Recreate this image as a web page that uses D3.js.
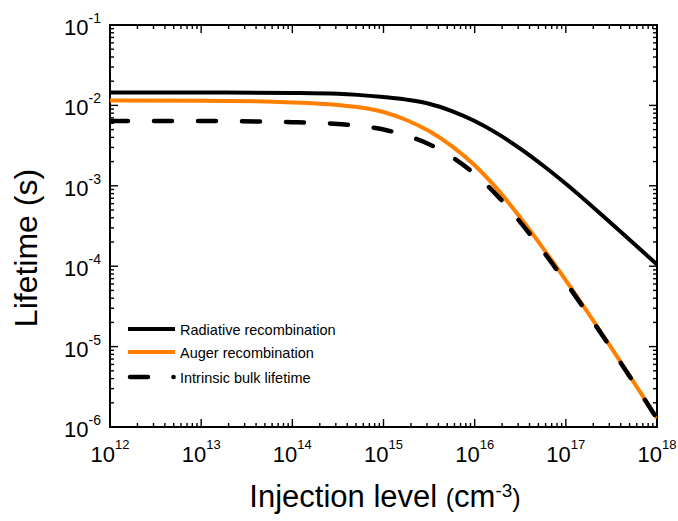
<!DOCTYPE html>
<html>
<head>
<meta charset="utf-8">
<script src="https://cdn.jsdelivr.net/npm/d3@7"></script>
<style>
  html, body { margin: 0; padding: 0; background: #fff; }
  svg { display: block; }
  text { font-family: "Liberation Sans", Arial, sans-serif; fill: #000; }
</style>
</head>
<body>
<svg id="chart" width="678" height="521"></svg>
<script>
// ---- Data ----
const injection = [1e12, 1e13, 1e14, 3.16e14, 1e15, 1.78e15, 3.16e15, 5.62e15, 1e16, 1.78e16, 3.16e16, 5.62e16, 1e17, 3.16e17, 1e18];
const radiative = [1.45e-2, 1.45e-2, 1.43e-2, 1.40e-2, 1.27e-2, 1.18e-2, 1.05e-2, 8.5e-3, 6.4e-3, 4.46e-3, 2.9e-3, 1.79e-3, 1.06e-3, 3.4e-4, 1.05e-4];
const auger     = [1.148e-2, 1.143e-2, 1.09e-2, 1.01e-2, 8.28e-3, 6.58e-3, 4.79e-3, 3.11e-3, 1.80e-3, 9.02e-4, 4.03e-4, 1.68e-4, 6.68e-5, 9.66e-6, 1.29e-6];
const intrinsic = [6.41e-3, 6.39e-3, 6.19e-3, 5.87e-3, 5.01e-3, 4.22e-3, 3.29e-3, 2.28e-3, 1.40e-3, 7.50e-4, 3.54e-4, 1.54e-4, 6.28e-5, 9.39e-6, 1.27e-6];

const xTickValues = [1e12, 1e13, 1e14, 1e15, 1e16, 1e17, 1e18];
const xTickExponents = ["12", "13", "14", "15", "16", "17", "18"];
const yTickValues = [1e-1, 1e-2, 1e-3, 1e-4, 1e-5, 1e-6];
const yTickExponents = ["-1", "-2", "-3", "-4", "-5", "-6"];

const seriesNames = ["Radiative recombination", "Auger recombination", "Intrinsic bulk lifetime"];
const seriesColors = ["#000000", "#ff8000", "#000000"];

// ---- Layout ----
const svg = d3.select("#chart");
const plot = { left: 110, right: 657, top: 25, bottom: 427 };

const x = d3.scaleLog().domain([1e12, 1e18]).range([plot.left, plot.right]);
const y = d3.scaleLog().domain([1e-6, 1e-1]).range([plot.bottom, plot.top]);

svg.append("defs").append("clipPath").attr("id", "clip")
  .append("rect")
  .attr("x", plot.left).attr("y", plot.top)
  .attr("width", plot.right - plot.left).attr("height", plot.bottom - plot.top);

// minor + major ticks
function minorTicks(lo, hi) {
  const out = [];
  for (let e = lo; e < hi; e++) {
    for (let m = 2; m <= 9; m++) out.push(m * Math.pow(10, e));
  }
  return out;
}
const xMinor = minorTicks(12, 18);
const yMinor = minorTicks(-6, -1);

const ticks = svg.append("g").attr("stroke", "#000").attr("stroke-width", 1.4);
const majorLen = 8, minorLen = 4;
xTickValues.forEach(v => {
  ticks.append("line").attr("x1", x(v)).attr("x2", x(v)).attr("y1", plot.bottom).attr("y2", plot.bottom - majorLen);
  ticks.append("line").attr("x1", x(v)).attr("x2", x(v)).attr("y1", plot.top).attr("y2", plot.top + majorLen);
});
xMinor.forEach(v => {
  ticks.append("line").attr("x1", x(v)).attr("x2", x(v)).attr("y1", plot.bottom).attr("y2", plot.bottom - minorLen);
  ticks.append("line").attr("x1", x(v)).attr("x2", x(v)).attr("y1", plot.top).attr("y2", plot.top + minorLen);
});
yTickValues.forEach(v => {
  ticks.append("line").attr("y1", y(v)).attr("y2", y(v)).attr("x1", plot.left).attr("x2", plot.left + majorLen);
  ticks.append("line").attr("y1", y(v)).attr("y2", y(v)).attr("x1", plot.right).attr("x2", plot.right - majorLen);
});
yMinor.forEach(v => {
  ticks.append("line").attr("y1", y(v)).attr("y2", y(v)).attr("x1", plot.left).attr("x2", plot.left + minorLen);
  ticks.append("line").attr("y1", y(v)).attr("y2", y(v)).attr("x1", plot.right).attr("x2", plot.right - minorLen);
});

// frame
svg.append("rect")
  .attr("x", plot.left).attr("y", plot.top)
  .attr("width", plot.right - plot.left).attr("height", plot.bottom - plot.top)
  .attr("fill", "none").attr("stroke", "#000").attr("stroke-width", 2);

// tick labels
xTickValues.forEach((v, i) => {
  const t = svg.append("text").attr("x", x(v)).attr("y", 462).attr("text-anchor", "middle");
  t.append("tspan").attr("font-size", 22).text("10");
  t.append("tspan").attr("font-size", 13).attr("dy", -13).text(xTickExponents[i]);
});
yTickValues.forEach((v, i) => {
  const t = svg.append("text").attr("x", 101).attr("y", y(v) + 10).attr("text-anchor", "end");
  t.append("tspan").attr("font-size", 22).text("10");
  t.append("tspan").attr("font-size", 14).attr("dy", -12).text(yTickExponents[i]);
});

// axis titles
const xt = svg.append("text").attr("x", 385).attr("y", 507).attr("text-anchor", "middle");
xt.append("tspan").attr("font-size", 31).text("Injection level ");
xt.append("tspan").attr("font-size", 25).text("(");
xt.append("tspan").attr("font-size", 31).text("cm");
xt.append("tspan").attr("font-size", 19).attr("dy", -10).text("-3");
xt.append("tspan").attr("font-size", 25).attr("dy", 10).text(")");

svg.append("text")
  .attr("transform", "translate(37,248) rotate(-90)")
  .attr("text-anchor", "middle").attr("font-size", 32)
  .text("Lifetime (s)");

// lines
const line = d3.line()
  .x((d, i) => x(injection[i]))
  .y(d => y(d))
  .curve(d3.curveMonotoneX);

const lines = svg.append("g").attr("clip-path", "url(#clip)");
lines.append("path").datum(radiative).attr("d", line)
  .attr("fill", "none").attr("stroke", seriesColors[0]).attr("stroke-width", 4);
lines.append("path").datum(auger).attr("d", line)
  .attr("fill", "none").attr("stroke", seriesColors[1]).attr("stroke-width", 4);
lines.append("path").datum(intrinsic).attr("d", line)
  .attr("fill", "none").attr("stroke", seriesColors[2]).attr("stroke-width", 4.5)
  .attr("stroke-dasharray", "18,26").attr("stroke-linecap", "round");

// legend
const legendRows = [329, 352, 377];
const lg = svg.append("g");
seriesNames.forEach((name, i) => {
  const yy = legendRows[i];
  if (i < 2) {
    lg.append("line").attr("x1", 128).attr("x2", 175).attr("y1", yy).attr("y2", yy)
      .attr("stroke", seriesColors[i]).attr("stroke-width", 4);
  } else {
    lg.append("line").attr("x1", 130).attr("x2", 173.6).attr("y1", yy).attr("y2", yy)
      .attr("stroke", seriesColors[i]).attr("stroke-width", 4.5)
      .attr("stroke-dasharray", "18,25.4").attr("stroke-linecap", "round");
  }
  lg.append("text").attr("x", 180).attr("y", yy + 5.5).attr("font-size", 14.5).text(name);
});
</script>
</body>
</html>
